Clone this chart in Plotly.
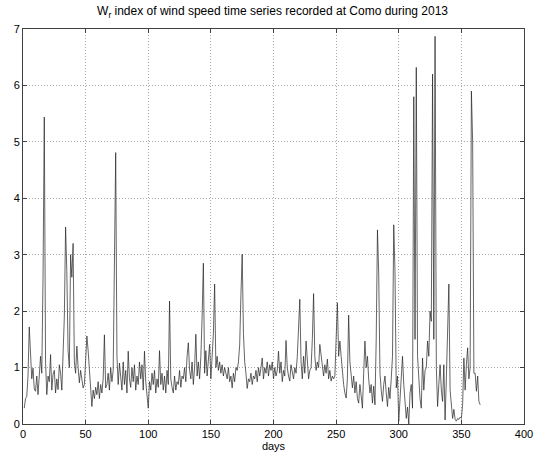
import plotly.graph_objects as go

# Daily W_r index values, Como 2013 (day 1 .. day 365)
wr_01_50 = [0.28, 0.45, 0.49, 0.85, 1.72, 1.15, 0.80, 0.99, 0.62, 0.58,
            0.85, 0.52, 0.90, 1.20, 0.90, 2.60, 5.44, 1.10, 0.52, 0.85,
            0.75, 1.23, 0.60, 0.88, 0.95, 0.55, 0.80, 0.61, 1.05, 0.90,
            0.60, 1.10, 1.90, 3.49, 2.70, 1.30, 1.00, 3.00, 2.60, 3.20,
            1.10, 0.90, 1.38, 1.00, 0.73, 0.95, 0.80, 0.64, 0.70, 1.05]
wr_51_100 = [1.56, 1.30, 1.02, 0.70, 0.31, 0.60, 0.45, 0.65, 0.52, 0.75,
             0.45, 0.70, 0.55, 0.80, 1.58, 0.64, 0.70, 0.90, 0.60, 1.00,
             0.75, 0.95, 3.00, 4.81, 1.20, 0.70, 1.08, 0.80, 0.60, 1.10,
             0.70, 0.95, 0.55, 1.29, 0.80, 0.65, 1.00, 0.75, 1.05, 0.60,
             0.85, 0.70, 1.10, 0.80, 1.05, 0.60, 1.29, 0.75, 0.55, 0.28]
wr_101_150 = [0.75, 0.60, 0.90, 0.70, 0.95, 0.55, 0.80, 0.65, 1.30, 0.70,
              0.90, 0.60, 0.85, 0.55, 0.95, 0.70, 2.18, 0.80, 0.65, 0.55,
              0.85, 0.60, 0.75, 0.70, 0.95, 0.65, 0.85, 0.80, 1.00, 0.75,
              1.20, 1.44, 0.95, 0.80, 1.10, 0.70, 1.00, 1.59, 0.85, 1.10,
              0.80, 1.20, 1.90, 2.85, 0.90, 1.30, 0.85, 1.10, 1.41, 0.80]
wr_151_200 = [1.30, 1.60, 2.48, 1.00, 1.20, 0.95, 1.10, 0.90, 1.05, 0.85,
              1.00, 0.90, 0.80, 1.00, 0.75, 0.85, 0.64, 0.90, 0.75, 1.00,
              0.95, 1.10, 1.40, 2.30, 3.01, 1.60, 1.10, 0.90, 0.63, 0.80,
              0.75, 0.90, 0.70, 0.85, 0.80, 0.95, 0.75, 1.00, 0.85, 1.00,
              1.17, 0.80, 1.00, 0.90, 1.10, 0.85, 1.05, 0.95, 1.10, 0.80]
wr_201_250 = [1.00, 0.85, 0.95, 1.29, 0.90, 1.10, 0.75, 0.95, 0.85, 1.48,
              1.00, 0.85, 0.76, 1.05, 0.95, 0.80, 1.00, 0.90, 1.20, 1.60,
              2.21, 1.10, 0.80, 1.20, 0.90, 1.47, 1.10, 0.80, 0.95, 1.00,
              1.50, 2.31, 1.20, 0.95, 1.10, 1.00, 1.41, 1.20, 1.00, 0.85,
              1.05, 0.90, 1.15, 0.80, 0.95, 0.76, 0.85, 0.80, 0.85, 1.40]
wr_251_300 = [2.15, 1.20, 1.47, 1.20, 0.90, 0.70, 0.55, 0.46, 0.80, 1.93,
              1.10, 0.90, 0.64, 0.85, 0.55, 0.75, 0.45, 0.37, 0.70, 0.50,
              0.28, 0.90, 1.47, 1.00, 1.20, 0.80, 0.55, 0.70, 0.37, 0.67,
              0.34, 1.50, 3.44, 2.66, 0.90, 0.60, 0.40, 0.70, 0.85, 0.55,
              0.31, 0.65, 0.45, 0.80, 1.20, 3.53, 2.70, 0.64, 0.85, 0.05]
wr_301_365 = [0.50, 0.90, 1.20, 0.70, 0.40, 0.10, 0.30, 0.00, 0.55, 0.70,
              0.28, 5.80, 1.50, 6.32, 1.20, 0.70, 0.45, 0.28, 1.17, 0.60,
              0.95, 1.00, 1.47, 1.20, 2.00, 1.82, 6.20, 1.50, 6.87, 1.00,
              0.31, 0.70, 1.05, 0.60, 0.40, 1.05, 0.07, 0.80, 1.50, 2.48,
              0.60, 0.34, 0.10, 0.26, 0.08, 0.05, 0.10, 0.08, 0.12, 0.10,
              0.35, 1.17, 0.60, 1.05, 1.35, 0.80, 1.00, 5.90, 5.00, 0.90,
              0.90, 0.58, 0.85, 0.40, 0.34]

wr = wr_01_50 + wr_51_100 + wr_101_150 + wr_151_200 + wr_201_250 + wr_251_300 + wr_301_365
days = list(range(1, len(wr) + 1))

x_ticks = [0, 50, 100, 150, 200, 250, 300, 350, 400]
y_ticks = [0, 1, 2, 3, 4, 5, 6, 7]

font_family = "Liberation Sans, Arial, sans-serif"

fig = go.Figure()
fig.add_trace(go.Scatter(
    x=days, y=wr, mode="lines",
    line=dict(color="#222222", width=0.7),
    hoverinfo="x+y", showlegend=False,
))

axis_common = dict(
    showline=True, linecolor="#404040", linewidth=1, mirror="ticks",
    ticks="inside", ticklen=4, tickcolor="#404040",
    showgrid=True, gridcolor="#a8a8a8", griddash="1px,2px", gridwidth=1,
    zeroline=False, automargin=False,
    tickfont=dict(size=11, color="#000000", family=font_family),
)

fig.update_xaxes(range=[0, 400], tickvals=x_ticks,
                 title=dict(text="days", font=dict(size=11, color="#000000", family=font_family), standoff=2),
                 **axis_common)
fig.update_yaxes(range=[0, 7], tickvals=y_ticks, **axis_common)

fig.update_layout(
    width=536, height=455,
    margin=dict(l=23, r=12, t=29, b=31),
    paper_bgcolor="white", plot_bgcolor="white",
    font=dict(family=font_family, size=11, color="#000000"),
    title=dict(text="W<sub>r</sub> index of wind speed time series recorded at Como during 2013",
               x=0.5085, xanchor="center", y=0.985, yanchor="top",
               font=dict(size=12, color="#000000", family=font_family)),
)

fig.write_html("out.html")
